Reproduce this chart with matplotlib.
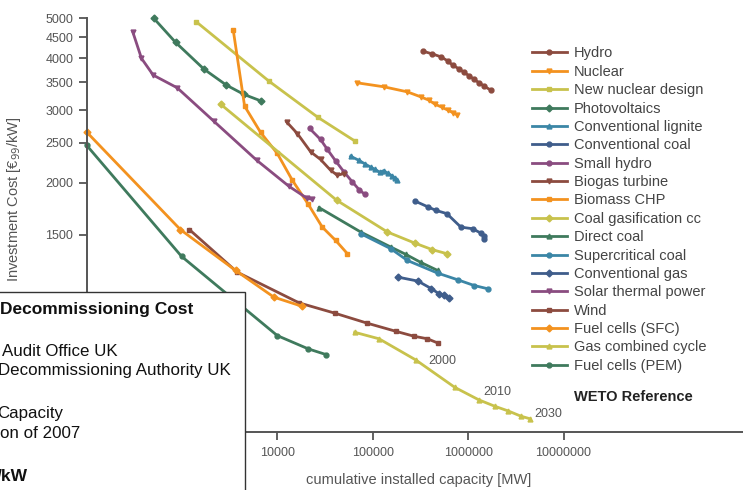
import matplotlib
matplotlib.use("Agg")
import matplotlib.pyplot as plt
from matplotlib.patches import Rectangle
from matplotlib.ticker import FixedLocator, NullLocator, FixedFormatter

plt.rcParams['font.family'] = ['Liberation Sans', 'DejaVu Sans']

# ---- learning curves: cumulative capacity [MW] vs investment cost [EUR99/kW] ----
hydro_x = [340e3, 423e3, 517e3, 608e3, 686e3, 805e3, 908e3, 1.025e6, 1.157e6, 1.304e6, 1.472e6, 1.73e6]
hydro_y = [4160, 4100, 4036, 3948, 3855, 3772, 3700, 3631, 3558, 3492, 3427, 3352]

nuclear_x = [69e3, 131e3, 231e3, 319e3, 387e3, 448e3, 530e3, 613e3, 692e3, 762e3]
nuclear_y = [3491, 3415, 3320, 3229, 3171, 3101, 3049, 2999, 2958, 2925]

newnuc_x = [1420, 8160, 26700, 64700]
newnuc_y = [4900, 3525, 2880, 2527]

pv_x = [507, 857, 1700, 2920, 4470, 6680]
pv_y = [5000, 4375, 3769, 3448, 3273, 3159]

lignite_x = [58.7e3, 71.3e3, 82.4e3, 95.3e3, 105e3, 118.4e3, 130.4e3, 143.6e3, 158.2e3, 170.2e3, 181.6e3]
lignite_y = [2320, 2269, 2225, 2183, 2158, 2123, 2141, 2111, 2082, 2058, 2030]

convcoal_x = [276e3, 380e3, 458e3, 598e3, 839e3, 1.112e6, 1.358e6, 1.45e6, 1.472e6]
convcoal_y = [1809, 1750, 1717, 1686, 1564, 1550, 1513, 1490, 1467]

smallhydro_x = [21.8e3, 28.4e3, 33.5e3, 40.9e3, 50e3, 61.2e3, 71.8e3, 82.4e3]
smallhydro_y = [2708, 2547, 2409, 2260, 2126, 2011, 1928, 1877]

biogas_x = [12.5e3, 16.2e3, 22.4e3, 28.4e3, 36.2e3, 42.6e3, 50e3]
biogas_y = [2810, 2633, 2377, 2279, 2146, 2087, 2107]

biomass_x = [3450, 4540, 6680, 10000, 14370, 20900, 29600, 40900, 54300]
biomass_y = [4686, 3067, 2649, 2356, 2030, 1782, 1564, 1452, 1349]

coalgas_x = [2540, 41.9e3, 142.6e3, 276e3, 423e3, 598e3]
coalgas_y = [3101, 1816, 1522, 1431, 1379, 1349]

directcoal_x = [27.4e3, 74.8e3, 154.5e3, 222e3, 319e3, 478e3]
directcoal_y = [1743, 1522, 1400, 1344, 1285, 1229]

supercrit_x = [74.8e3, 154.5e3, 231e3, 478e3, 774e3, 1.157e6, 1.6e6]
supercrit_y = [1508, 1387, 1299, 1211, 1167, 1130, 1110]

convgas_x = [184e3, 298e3, 413e3, 496e3, 560e3, 632e3]
convgas_y = [1184, 1158, 1110, 1079, 1069, 1056]

solar_x = [305, 377, 500, 893, 2160, 6070, 13240, 20300, 22900]
solar_y = [4641, 4001, 3645, 3396, 2820, 2270, 1963, 1839, 1826]

wind_x = [1200, 3800, 16900, 39900, 87900, 174e3, 271e3, 375e3, 484e3]
wind_y = [1542, 1217, 1026, 969, 916, 876, 852, 840, 820]

sfc_x = [100, 966, 3650, 9210, 18300]
sfc_y = [2657, 1542, 1229, 1059, 1006]

gascc_x = [64.7e3, 116.5e3, 282e3, 725e3, 1.294e6, 1.905e6, 2.64e6, 3.575e6, 4.48e6]
gascc_y = [871, 840, 747, 641, 598, 577, 562, 546, 538]

pem_x = [100, 991, 10000, 21150, 32660]
pem_y = [2468, 1329, 855, 794, 769]

year_labels = ["2000", "2010", "2030"]
year_x = [530e3, 2.0e6, 7.0e6]
year_y = [744, 626, 554]

y_ticks = [1500, 2000, 2500, 3000, 3500, 4000, 4500, 5000]
x_ticks = [1e4, 1e5, 1e6, 1e7]
x_tick_labels = ["10000", "100000", "1000000", "10000000"]

# colours
BROWN = "#8c4b3f"
ORANGE = "#f3921f"
OLIVE = "#c8c24c"
GREEN = "#3f7a5d"
TEAL = "#3b86a6"
NAVY = "#3f5d8b"
PURPLE = "#8a4c80"

series = [
    ("Hydro", hydro_x, hydro_y, BROWN, "o"),
    ("Nuclear", nuclear_x, nuclear_y, ORANGE, "v"),
    ("New nuclear design", newnuc_x, newnuc_y, OLIVE, "s"),
    ("Photovoltaics", pv_x, pv_y, GREEN, "D"),
    ("Conventional lignite", lignite_x, lignite_y, TEAL, "^"),
    ("Conventional coal", convcoal_x, convcoal_y, NAVY, "o"),
    ("Small hydro", smallhydro_x, smallhydro_y, PURPLE, "o"),
    ("Biogas turbine", biogas_x, biogas_y, BROWN, "v"),
    ("Biomass CHP", biomass_x, biomass_y, ORANGE, "s"),
    ("Coal gasification cc", coalgas_x, coalgas_y, OLIVE, "D"),
    ("Direct coal", directcoal_x, directcoal_y, GREEN, "^"),
    ("Supercritical coal", supercrit_x, supercrit_y, TEAL, "o"),
    ("Conventional gas", convgas_x, convgas_y, NAVY, "D"),
    ("Solar thermal power", solar_x, solar_y, PURPLE, "v"),
    ("Wind", wind_x, wind_y, BROWN, "s"),
    ("Fuel cells (SFC)", sfc_x, sfc_y, ORANGE, "D"),
    ("Gas combined cycle", gascc_x, gascc_y, OLIVE, "^"),
    ("Fuel cells (PEM)", pem_x, pem_y, GREEN, "o"),
]

W, H = 743, 490
fig = plt.figure(figsize=(W / 100, H / 100), dpi=100)
ax = fig.add_axes([86.5 / W, 1 - 432 / H, 1 - 86.5 / W + 0.01, (432 - 18.3) / H])

handles = []
for name, xs, ys, col, mk in series:
    ln, = ax.plot(xs, ys, color=col, lw=2, marker=mk, ms=3.5, mfc=col, mec=col,
                  label=name, clip_on=False)
    handles.append(ln)

ax.set_xscale("log")
ax.set_yscale("log")
ax.set_xlim(100, 9.1e8)
ax.set_ylim(500, 5000)

ax.yaxis.set_major_locator(FixedLocator(y_ticks))
ax.yaxis.set_major_formatter(FixedFormatter([str(v) for v in y_ticks]))
ax.yaxis.set_minor_locator(NullLocator())
ax.xaxis.set_major_locator(FixedLocator(x_ticks))
ax.xaxis.set_major_formatter(FixedFormatter(x_tick_labels))
ax.xaxis.set_minor_locator(NullLocator())

ax.tick_params(axis="both", direction="out", length=6, width=1.3, colors="#555555",
               labelsize=9, labelcolor="#555555")
ax.tick_params(axis="x", pad=5)
for side in ("top", "right"):
    ax.spines[side].set_visible(False)
for side in ("left", "bottom"):
    ax.spines[side].set_color("#555555")
    ax.spines[side].set_linewidth(1.4)

for lab, xv, yv in zip(year_labels, year_x, year_y):
    ax.text(xv, yv, lab, fontsize=9, color="#555555", ha="center", va="center")

fig.text(418.5 / W, 1 - 480 / H, "cumulative installed capacity [MW]", fontsize=10.5,
         color="#555555", ha="center", va="center")
fig.text(14 / W, 1 - 199.5 / H, "Investment Cost [€$_{99}$/kW]", fontsize=10.5,
         color="#555555", ha="center", va="center", rotation=90)

leg = fig.legend(handles=handles, loc="upper left", bbox_to_anchor=(531.7 / W, 1 - 46.5 / H),
                 frameon=False, fontsize=10.5, handlelength=2.4, handletextpad=0.5,
                 labelspacing=0.3, borderpad=0, borderaxespad=0)
for t in leg.get_texts():
    t.set_color("#444444")

fig.text(574 / W, 1 - 397.3 / H, "WETO Reference", fontsize=10.5, fontweight="bold",
         color="#222222", ha="left", va="center")

# overlapping info panel in the lower left corner
box = Rectangle((-0.05, -0.05), 245 / W + 0.05, (490 - 292.3) / H + 0.05,
                transform=fig.transFigure, facecolor="white", edgecolor="#333333",
                lw=1, zorder=10)
fig.patches.append(box)
panel = [
    (0, 309.3, "Decommissioning Cost", "bold", 12.5),
    (1.5, 351, "Audit Office UK", "normal", 12.2),
    (-2, 371, "Decommissioning Authority UK", "normal", 12.2),
    (-3, 413.3, "Capacity", "normal", 12.2),
    (0, 433.3, "on of 2007", "normal", 12.2),
    (-3, 476, "/kW", "bold", 12.5),
]
for px, py, txt, wt, fs in panel:
    fig.text(px / W, 1 - py / H, txt, fontsize=fs, fontweight=wt, color="#111111",
             ha="left", va="center", zorder=11)

fig.savefig("out.png", dpi=100)
